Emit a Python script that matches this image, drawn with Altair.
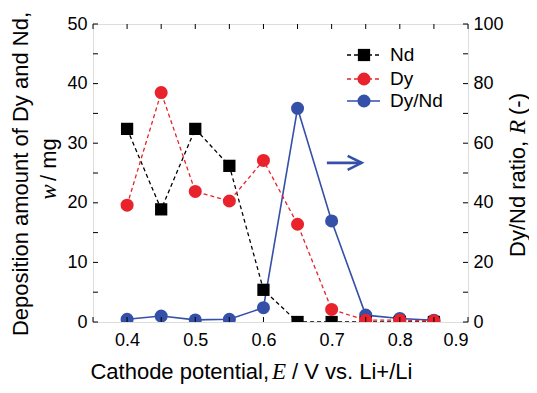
import altair as alt
import pandas as pd

# ---- data ----
potential = [0.40, 0.45, 0.50, 0.55, 0.60, 0.65, 0.70, 0.75, 0.80, 0.85]
nd_mg = [32.4, 18.9, 32.4, 26.2, 5.4, 0.0, 0.0, 0.0, 0.0, 0.0]
dy_mg = [19.6, 38.5, 21.9, 20.3, 27.1, 16.4, 2.1, 0.3, 0.3, 0.2]
ratio = [0.9, 2.0, 0.7, 0.9, 4.8, 71.7, 33.9, 2.3, 1.2, 0.6]

x_ticks = [0.35, 0.40, 0.45, 0.50, 0.55, 0.60, 0.65, 0.70, 0.75, 0.80, 0.85, 0.90]
x_labels = [0.4, 0.5, 0.6, 0.7, 0.8, 0.9]
y_ticks = [0, 5, 10, 15, 20, 25, 30, 35, 40, 45, 50]
y_labels = [0, 10, 20, 30, 40, 50]
r_labels = [0, 20, 40, 60, 80, 100]

arrow_x = [0.693, 0.744]
arrow_y = [26.7, 26.7]

# ---- style ----
W, H = 375, 298
BLACK, RED, BLUE = "#000000", "#e8232b", "#3550a8"
SANS = "Liberation Sans"
SERIF = "Liberation Serif"
TICK = 5
TFS = 22

df = pd.DataFrame({"E": potential, "Nd": nd_mg, "Dy": dy_mg, "R": ratio})
xsc = alt.Scale(domain=[0.35, 0.9], nice=False, zero=False)
ysc = alt.Scale(domain=[0, 50], nice=False)
rsc = alt.Scale(domain=[0, 100], nice=False)

xaxis = alt.Axis(values=x_labels, format=".1f", domain=False, ticks=False, tickSize=0,
                 grid=False, labelFontSize=18, labelFont=SANS, labelColor="black",
                 labelPadding=9, title=None)
yaxis = alt.Axis(values=y_labels, domain=False, ticks=False, tickSize=0, grid=False,
                 labelFontSize=18, labelFont=SANS, labelColor="black",
                 labelPadding=6, title=None)
raxis = alt.Axis(values=r_labels, orient="right", domain=False, ticks=False, tickSize=0,
                 grid=False, labelFontSize=18, labelFont=SANS, labelColor="black",
                 labelPadding=5, title=None)

def X(f):
    return alt.X(f, scale=xsc, axis=xaxis)

def Y(f):
    return alt.Y(f, scale=ysc, axis=yaxis)

base = alt.Chart(df)

# right axis series (drawn first, underneath)
blue_line = base.mark_line(color=BLUE, strokeWidth=1.6, clip=True).encode(
    x=X("E:Q"), y=alt.Y("R:Q", scale=rsc, axis=raxis))
blue_pts = base.mark_point(shape="circle", filled=True, opacity=1, size=170,
                           color=BLUE, clip=True).encode(
    x=X("E:Q"), y=alt.Y("R:Q", scale=rsc, axis=raxis))
right_group = alt.layer(blue_line, blue_pts)

# left axis series
nd_line = base.mark_line(color=BLACK, strokeWidth=1.3, strokeDash=[4, 3], clip=True).encode(
    x=X("E:Q"), y=Y("Nd:Q"))
nd_pts = base.mark_point(shape="square", filled=True, opacity=1, size=150,
                         color=BLACK, clip=True).encode(x=X("E:Q"), y=Y("Nd:Q"))
dy_line = base.mark_line(color=RED, strokeWidth=1.3, strokeDash=[4, 3], clip=True).encode(
    x=X("E:Q"), y=Y("Dy:Q"))
dy_pts = base.mark_point(shape="circle", filled=True, opacity=1, size=170,
                         color=RED, clip=True).encode(x=X("E:Q"), y=Y("Dy:Q"))

# arrow
adf = pd.DataFrame({"x": arrow_x, "y": arrow_y})
arrow_line = alt.Chart(adf).mark_line(color=BLUE, strokeWidth=2.6).encode(
    x=X("x:Q"), y=Y("y:Q"))
arrow_head = alt.Chart(adf.tail(1)).mark_point(
    shape="M-2,-1L0,0L-2,1", filled=False, size=196, color=BLUE, strokeWidth=2.6,
    opacity=1).encode(x=X("x:Q"), y=Y("y:Q"))

# inward ticks
xt = pd.DataFrame({"t": x_ticks})
yt = pd.DataFrame({"t": y_ticks})
tick_kw = dict(color="black", strokeWidth=1)
xb = alt.Chart(xt).mark_rule(**tick_kw).encode(
    x=X("t:Q"), y=alt.value(H), y2=alt.value(H - TICK))
xtop = alt.Chart(xt).mark_rule(**tick_kw).encode(
    x=X("t:Q"), y=alt.value(0), y2=alt.value(TICK))
yl = alt.Chart(yt).mark_rule(**tick_kw).encode(
    y=Y("t:Q"), x=alt.value(0), x2=alt.value(TICK))
yr = alt.Chart(yt).mark_rule(**tick_kw).encode(
    y=Y("t:Q"), x=alt.value(W - TICK), x2=alt.value(W))

one = pd.DataFrame({"a": [0]})

def txt(s, x, y, size=TFS, font=SANS, style="normal", align="center", angle=0,
        baseline="middle", color="black"):
    return alt.Chart(one).mark_text(text=s, font=font, fontSize=size, fontStyle=style,
                                    align=align, baseline=baseline, angle=angle,
                                    color=color).encode(x=alt.value(x), y=alt.value(y))

# legend
leg_rows = [("Nd", BLACK, "square", [4, 3], 31), ("Dy", RED, "circle", [4, 3], 55),
            ("Dy/Nd", BLUE, "circle", [1, 0], 77)]
legend_layers = []
for name, col, shp, dash, ly in leg_rows:
    legend_layers.append(alt.Chart(one).mark_rule(color=col, strokeWidth=1.4, strokeDash=dash).encode(
        x=alt.value(254), x2=alt.value(287), y=alt.value(ly)))
    legend_layers.append(alt.Chart(one).mark_point(shape=shp, filled=True, opacity=1,
                                                   size=150 if shp == "square" else 170,
                                                   color=col).encode(
        x=alt.value(271), y=alt.value(ly)))
    legend_layers.append(txt(name, 297, ly, size=19, align="left"))

XT_Y = 355
titles = [
    txt("Cathode potential,", 176, XT_Y, align="right", baseline="alphabetic"),
    txt("E", 186, XT_Y, size=23, font=SERIF, style="italic", baseline="alphabetic"),
    txt("/ V vs. Li+/Li", 199, XT_Y, align="left", baseline="alphabetic"),
    txt("Deposition amount of Dy and Nd,", -72, 150, angle=270),
    txt("w", -44, 168, size=23, font=SERIF, style="italic", angle=270),
    txt("/ mg", -44, 157, align="left", angle=270),
    txt("Dy/Nd ratio,", 425, 233, align="left", angle=270),
    txt("R", 425, 103, size=23, font=SERIF, style="italic", angle=270),
    txt("(-)", 425, 91, align="left", angle=270),
]

left_group = alt.layer(nd_line, dy_line, nd_pts, dy_pts, arrow_line, arrow_head,
                       xb, xtop, yl, yr, *legend_layers, *titles)

chart = alt.layer(right_group, left_group).resolve_scale(y="independent").properties(
    width=W, height=H,
    autosize=alt.AutoSizeParams(type="none"),
    padding={"left": 85, "top": 16, "right": 61, "bottom": 63},
).configure_view(stroke="black", strokeWidth=1.3).configure(background="white")

chart.save("out.html", embed_options={"renderer": "svg", "actions": False})
